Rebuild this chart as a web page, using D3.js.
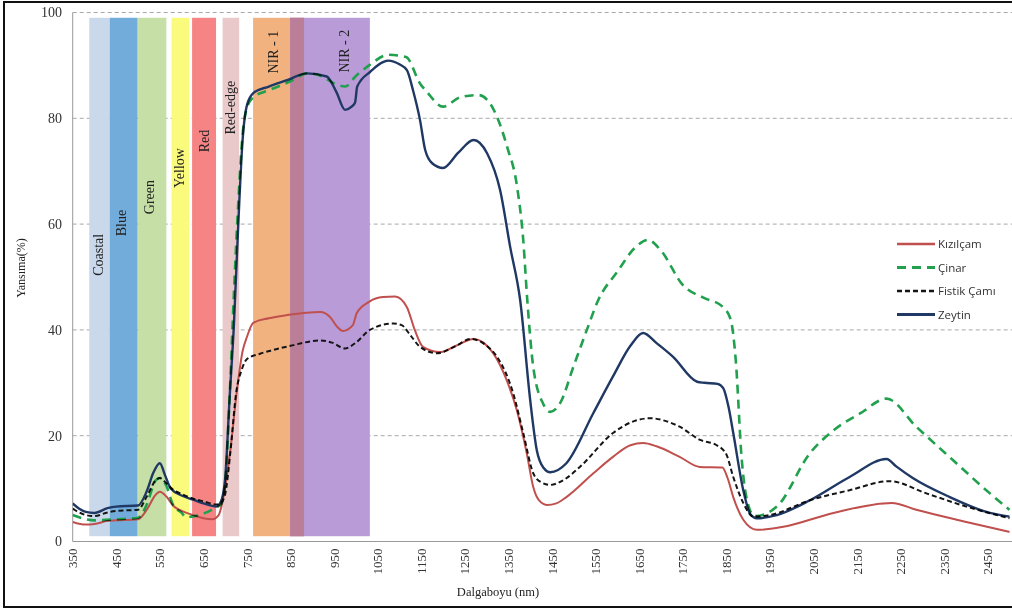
<html>
<head>
  <script src="https://d3js.org/d3.v7.min.js"></script>
  <style>
    body { margin: 0; background: #fff; }
    svg text { font-family: "Liberation Serif", "DejaVu Serif", serif; }
  </style>
</head>
<body>
  <script type="text/javascript">
    // band edges in nm
    var bandNames = ["Coastal", "Blue", "Green", "Yellow", "Red", "Red-edge", "NIR - 1", "NIR - 2"];
    var bandStart = [388, 435, 500, 577, 624, 694, 764, 849];
    var bandEnd   = [435, 499, 565, 617, 679, 732, 881, 1032];
    var bandColors = ["#c9d8ea", "#72acdb", "#c6dfa6", "#fafa7c", "#f78484", "#e9c9c9", "#f2b27f", "#b99bd8"];
    // where each band label sits, [nm, %]
    var bandLabelAt = [[409, 54.2], [461, 60.2], [525, 65.1], [594, 70.6], [651, 75.7], [712, 82], [810, 92.5], [972, 92.7]];

    var yTicks = [0, 20, 40, 60, 80, 100];
    var xTicks = d3.range(350, 2451, 100);

    // spectra, [wavelength nm, reflectance %]
    var kizilcam = [[350,3.7],[380,3.2],[400,3.3],[430,3.9],[450,4],[500,4.2],[520,6],[540,8.8],[550,9.4],[565,8.5],[580,6.8],[600,5.8],[630,4.9],[650,4.4],[670,4.2],[685,5],[695,8],[705,13],[711,16.7],[727,28.6],[740,36],[750,38.7],[764,41.3],[800,42.2],[842,42.8],[918,43.4],[940,42.5],[958,40.5],[970,39.8],[993,40.9],[1002,43.2],[1030,45.3],[1062,46.2],[1090,46.3],[1117,44.3],[1135,40],[1154,36.8],[1193,35.8],[1230,37],[1270,38.3],[1315,35.6],[1346,30.5],[1369,24.9],[1392,16.7],[1407,10.3],[1420,7.8],[1438,6.9],[1460,7.2],[1483,8.4],[1545,12.9],[1590,16],[1630,18.2],[1659,18.6],[1690,18],[1743,16],[1789,14.1],[1841,14],[1853,12],[1866,8.4],[1889,4.1],[1920,2.2],[1981,2.8],[2096,5.4],[2230,7.3],[2286,6],[2401,3.7],[2500,1.8]];

    var cinar = [[350,5],[380,4.2],[400,4],[450,4.2],[500,4.5],[520,7],[540,11.5],[550,12],[565,10.5],[580,7],[600,5.4],[610,4.6],[630,4.8],[660,5.6],[680,6.5],[690,7],[700,11],[710,27],[720,47],[730,64],[740,77],[750,82],[765,84],[800,85.3],[850,87],[888,88.5],[920,88],[950,86.6],[975,86],[1000,88],[1030,90],[1075,92],[1115,91.6],[1147,86.6],[1163,85],[1200,82.2],[1240,84],[1281,84.4],[1320,81],[1347,74.6],[1370,67],[1384,57],[1393,46],[1407,33],[1430,26],[1446,24.5],[1469,26.2],[1499,33],[1530,40],[1556,45.6],[1600,51],[1640,55.5],[1670,57],[1700,55],[1750,48.5],[1800,46],[1840,44.5],[1860,42],[1872,34],[1885,16],[1900,7],[1915,4.8],[1966,6.6],[2042,16.7],[2096,21],[2157,24.2],[2218,27],[2286,21.7],[2370,15.4],[2455,9.1],[2500,6]];

    var fistik = [[350,6.2],[380,5],[400,4.8],[430,5.5],[450,5.8],[500,6],[520,8.5],[540,11.5],[550,12],[565,11],[580,9.8],[600,9],[630,8],[650,7.6],[680,7],[690,7.3],[700,9],[712,17],[725,28],[738,32.5],[750,34.5],[780,35.5],[810,36.2],[850,37],[918,38],[945,37.6],[975,36.5],[1000,37.6],[1032,40],[1086,41.2],[1105,40.9],[1125,39],[1147,36.8],[1186,35.6],[1230,37],[1263,38.3],[1300,37],[1324,34.9],[1361,28],[1384,20.5],[1407,12.9],[1425,11.2],[1446,10.7],[1480,11.8],[1514,14.1],[1590,20.5],[1640,22.8],[1676,23.3],[1710,22.8],[1743,21.7],[1790,19.2],[1828,18.2],[1850,16.5],[1866,12.2],[1889,7.3],[1912,4.7],[1950,5],[2042,7.8],[2133,9.7],[2225,11.4],[2309,9.1],[2401,6.6],[2500,4.4]];

    var zeytin = [[350,7.2],[365,6.2],[380,5.6],[400,5.4],[430,6.3],[450,6.6],[500,6.8],[520,9.5],[535,13],[550,14.8],[562,12.5],[575,10],[600,8.7],[630,7.8],[650,7.2],[680,6.6],[690,7.5],[700,12],[710,27],[720,41],[730,60],[740,76],[750,82.5],[765,84.8],[800,86],[842,87.2],[888,88.5],[933,87.9],[955,85],[975,81.6],[990,82.2],[998,83],[1003,86],[1033,88.8],[1074,90.9],[1100,90.2],[1117,89.1],[1131,85.3],[1147,79.7],[1159,74],[1175,71.5],[1200,70.6],[1235,73.5],[1270,75.9],[1301,73.4],[1331,66.4],[1354,55.7],[1377,45.6],[1400,26.7],[1415,17.3],[1430,14],[1446,13.1],[1483,14.8],[1545,24.3],[1590,31.2],[1630,37],[1659,39.4],[1690,37.5],[1728,34.9],[1783,30.2],[1800,30],[1830,29.8],[1843,29],[1855,25.5],[1866,20.5],[1889,9.7],[1905,5.2],[1920,4.4],[1966,5],[2042,7.8],[2133,12.2],[2218,15.6],[2240,14.2],[2278,12],[2363,8.4],[2455,5.4],[2500,4.7]];

    var seriesNames = ["Kızılçam", "Çinar", "Fistik Çamı", "Zeytin"];
    var seriesData = [kizilcam, cinar, fistik, zeytin];
    var seriesColors = ["#c0504d", "#21a04e", "#151515", "#1f3864"];
    var seriesWidth = [2, 2.6, 2, 2.4];
    var seriesDash = [null, "9,6", "5,3", null];

    var W = 1012, H = 610;
    var svg = d3.select("body").append("svg").attr("width", W).attr("height", H);
    svg.append("rect").attr("width", W).attr("height", H).attr("fill", "#fff");

    var x = d3.scaleLinear().domain([350, 2500]).range([72.7, 1009.5]);
    var y = d3.scaleLinear().domain([0, 100]).range([541.5, 12.5]);

    // grid lines
    svg.selectAll(".grid")
      .data(yTicks.filter(function (d) { return d > 0; }))
      .enter().append("line")
        .attr("x1", x(350)).attr("x2", W)
        .attr("y1", function (d) { return y(d); })
        .attr("y2", function (d) { return y(d); })
        .attr("stroke", "#a8a8a8")
        .attr("stroke-width", 1)
        .attr("stroke-dasharray", "4,3");

    // spectral bands
    svg.selectAll(".band")
      .data(bandNames)
      .enter().append("rect")
        .attr("x", function (d, i) { return x(bandStart[i]); })
        .attr("width", function (d, i) { return x(bandEnd[i]) - x(bandStart[i]); })
        .attr("y", y(99))
        .attr("height", y(1) - y(99))
        .attr("fill", function (d, i) { return bandColors[i]; });
    // overlap of NIR-1 and NIR-2
    svg.append("rect")
      .attr("x", x(bandStart[7]))
      .attr("width", x(bandEnd[6]) - x(bandStart[7]))
      .attr("y", y(99))
      .attr("height", y(1) - y(99))
      .attr("fill", "#bb7e98");

    svg.selectAll(".bandlabel")
      .data(bandNames)
      .enter().append("text")
        .attr("transform", function (d, i) {
          return "translate(" + x(bandLabelAt[i][0]) + "," + y(bandLabelAt[i][1]) + ") rotate(-90)";
        })
        .attr("text-anchor", "middle")
        .attr("dy", "0.35em")
        .style("font-size", "14px")
        .style("fill", "#222")
        .text(function (d) { return d; });

    // axes
    svg.append("line")
      .attr("x1", x(350)).attr("x2", x(350))
      .attr("y1", y(100)).attr("y2", y(0))
      .attr("stroke", "#999");
    svg.append("line")
      .attr("x1", x(350)).attr("x2", W)
      .attr("y1", y(0)).attr("y2", y(0))
      .attr("stroke", "#999");

    svg.selectAll(".ytick")
      .data(yTicks)
      .enter().append("text")
        .attr("x", 62)
        .attr("y", function (d) { return y(d); })
        .attr("dy", "0.35em")
        .attr("text-anchor", "end")
        .style("font-size", "14px")
        .style("fill", "#333")
        .text(function (d) { return d; });

    svg.selectAll(".xtick")
      .data(xTicks)
      .enter().append("text")
        .attr("transform", function (d) { return "translate(" + x(d) + "," + (y(0) + 7) + ") rotate(-90)"; })
        .attr("text-anchor", "end")
        .attr("dy", "0.35em")
        .style("font-size", "13px")
        .style("fill", "#333")
        .text(function (d) { return d; });

    svg.append("text")
      .attr("transform", "translate(21,268) rotate(-90)")
      .attr("text-anchor", "middle")
      .attr("dy", "0.35em")
      .style("font-size", "12px")
      .style("fill", "#222")
      .text("Yansıma(%)");

    svg.append("text")
      .attr("x", 498).attr("y", 596)
      .attr("text-anchor", "middle")
      .style("font-size", "12.5px")
      .style("fill", "#222")
      .text("Dalgaboyu (nm)");

    // spectra
    svg.append("clipPath").attr("id", "plot")
      .append("rect").attr("x", x(350)).attr("y", 0).attr("width", W - x(350)).attr("height", y(0));

    var line = d3.line()
      .x(function (d) { return x(d[0]); })
      .y(function (d) { return y(d[1]); })
      .curve(d3.curveMonotoneX);

    svg.append("g").attr("clip-path", "url(#plot)")
      .selectAll("path")
      .data(seriesData)
      .enter().append("path")
        .attr("d", line)
        .attr("fill", "none")
        .attr("stroke", function (d, i) { return seriesColors[i]; })
        .attr("stroke-width", function (d, i) { return seriesWidth[i]; })
        .attr("stroke-dasharray", function (d, i) { return seriesDash[i]; })
        .style("mix-blend-mode", "multiply");

    // legend
    var rows = svg.append("g").selectAll("g")
      .data(seriesNames)
      .enter().append("g")
        .attr("transform", function (d, i) { return "translate(897," + (244 + i * 23.5) + ")"; });
    rows.append("line")
      .attr("x1", 0).attr("x2", 38)
      .attr("stroke", function (d, i) { return seriesColors[i]; })
      .attr("stroke-width", function (d, i) { return seriesWidth[i] + 0.4; })
      .attr("stroke-dasharray", function (d, i) { return seriesDash[i]; });
    rows.append("text")
      .attr("x", 41)
      .attr("dy", "0.35em")
      .style("font-family", "'Open Sans', 'Noto Sans', sans-serif")
      .style("font-size", "11.5px")
      .style("fill", "#333")
      .text(function (d) { return d; });

    // frame
    svg.append("rect")
      .attr("x", 4).attr("y", 2)
      .attr("width", W).attr("height", 605)
      .attr("fill", "none")
      .attr("stroke", "#111")
      .attr("stroke-width", 2);
  </script>
</body>
</html>
